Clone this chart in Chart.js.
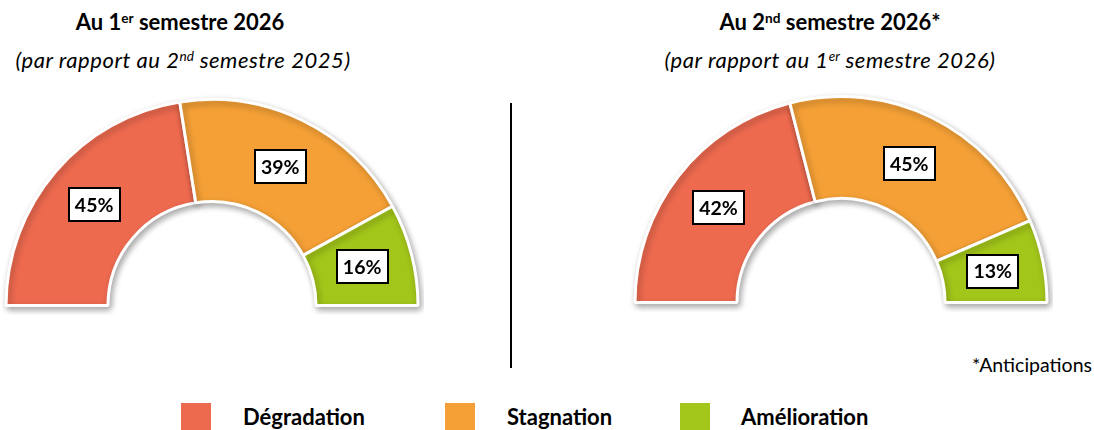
<!DOCTYPE html>
<html>
<head>
<meta charset="utf-8">
<script src="https://cdn.jsdelivr.net/npm/chart.js@4"></script>
<style>
  html, body { margin: 0; padding: 0; background: #fff; }
  body { width: 1094px; height: 430px; position: relative; overflow: hidden; font-family: Lato, "Open Sans", sans-serif; color: #000; }
  .title { position: absolute; transform: translateX(-50%); white-space: nowrap; font-weight: bold; font-size: 22px; line-height: 26px; }
  .sub { position: absolute; transform: translateX(-50%); white-space: nowrap; font-style: italic; font-size: 22px; line-height: 26px; letter-spacing: 0.55px; }
  sup { font-size: 0.62em; vertical-align: 0; position: relative; top: -0.55em; letter-spacing: 0; }
  canvas { position: absolute; }
  .divider { position: absolute; left: 510px; top: 103px; width: 2px; height: 265px; background: #000; }
  .note { position: absolute; right: 2px; top: 352px; font-size: 19.5px; line-height: 26px; }
  .lt { position: absolute; font-weight: bold; font-size: 22px; line-height: 26px; top: 404px; white-space: nowrap; }
</style>
</head>
<body>
<div class="title" style="left:180px; top:9px;">Au 1<sup>er</sup> semestre 2026</div>
<div class="sub" style="left:183px; top:47px;">(par rapport au 2<sup>nd</sup> semestre 2025)</div>
<div class="title" style="left:830px; top:9px;">Au 2<sup>nd</sup> semestre 2026*</div>
<div class="sub" style="left:830px; top:47px;">(par rapport au 1<sup>er</sup> semestre 2026)</div>
<div class="divider"></div>
<div class="note">*Anticipations</div>
<canvas id="c1" width="424" height="225" style="left:0px; top:90px; width:424px; height:225px;"></canvas>
<canvas id="c2" width="424" height="225" style="left:629px; top:87px; width:424px; height:225px;"></canvas>
<div id="legend"></div>
<script>
const categories = ["Dégradation", "Stagnation", "Amélioration"];
const colors = ["#ED6A4F", "#F4A036", "#A3C61A"];
const values1 = [45, 39, 16];   // Au 1er semestre 2026
const values2 = [42, 45, 13];   // Au 2nd semestre 2026*

// Legend (HTML)
const legendPos = [{sw: 181, txt: 243}, {sw: 445, txt: 507}, {sw: 680, txt: 741}];
const legend = document.getElementById('legend');
categories.forEach((c, i) => {
  const s = document.createElement('div');
  s.style.cssText = `position:absolute;left:${legendPos[i].sw}px;top:403px;width:30px;height:30px;background:${colors[i]};`;
  legend.appendChild(s);
  const t = document.createElement('div');
  t.className = 'lt';
  t.style.left = legendPos[i].txt + 'px';
  t.textContent = c;
  legend.appendChild(t);
});

const shadowPlugin = {
  id: 'shadow',
  beforeDatasetsDraw(chart) {
    const ctx = chart.ctx;
    ctx.save();
    ctx.shadowColor = 'rgba(0,0,0,0.32)';
    ctx.shadowBlur = 6;
    ctx.shadowOffsetX = 2;
    ctx.shadowOffsetY = 3;
  },
  afterDatasetsDraw(chart) {
    chart.ctx.restore();
  }
};

const boxLabels = {
  id: 'boxLabels',
  afterDatasetsDraw(chart) {
    const ctx = chart.ctx;
    const meta = chart.getDatasetMeta(0);
    const data = chart.data.datasets[0].data;
    ctx.save();
    ctx.font = 'bold 19.5px Lato, "Open Sans", sans-serif';
    ctx.textAlign = 'center';
    ctx.textBaseline = 'middle';
    meta.data.forEach((arc, i) => {
      const p = arc.tooltipPosition();
      const w = 53, h = 35;
      const x = Math.round(p.x - w / 2), y = Math.round(p.y - h / 2);
      ctx.fillStyle = '#fff';
      ctx.fillRect(x, y, w, h);
      ctx.lineWidth = 2;
      ctx.strokeStyle = '#000';
      ctx.strokeRect(x + 1, y + 1, w - 2, h - 2);
      ctx.fillStyle = '#000';
      ctx.fillText(data[i] + '%', p.x, p.y + 1);
    });
    ctx.restore();
  }
};

function makeChart(id, values) {
  return new Chart(document.getElementById(id), {
    type: 'doughnut',
    data: {
      labels: categories,
      datasets: [{
        data: values,
        backgroundColor: colors,
        borderColor: '#ffffff',
        borderWidth: 3
      }]
    },
    options: {
      responsive: false,
      animation: false,
      rotation: -90,
      circumference: 180,
      radius: 206,
      cutout: '50.5%',
      layout: { padding: 0 },
      plugins: {
        legend: { display: false },
        tooltip: { enabled: false },
        title: { display: false }
      }
    },
    plugins: [shadowPlugin, boxLabels]
  });
}

makeChart('c1', values1);
makeChart('c2', values2);
</script>
</body>
</html>
